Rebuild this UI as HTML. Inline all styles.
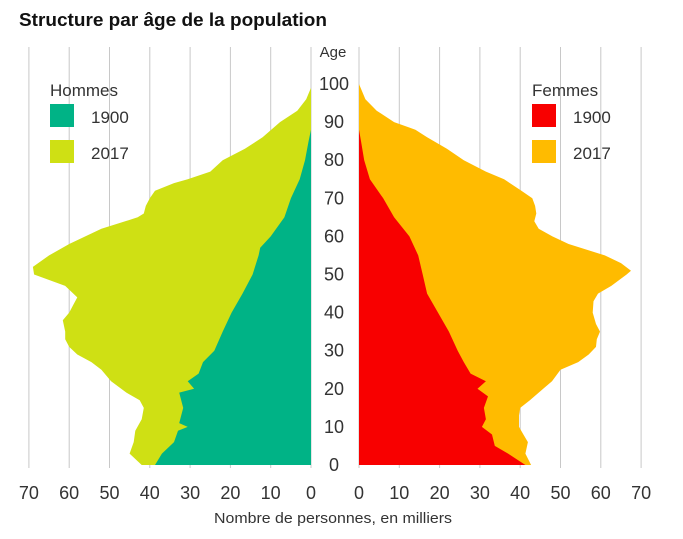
<!DOCTYPE html>
<html><head><meta charset="utf-8"><style>
body{margin:0;background:#fff;width:683px;height:539px;overflow:hidden}
svg{display:block}
text{font-family:"Liberation Sans Narrow","Liberation Sans",sans-serif;fill:#333}
</style></head><body>
<svg id="s" width="683" height="539" xmlns="http://www.w3.org/2000/svg">
<text x="19" y="26" textLength="308" lengthAdjust="spacingAndGlyphs" style="font-family:'Liberation Sans',sans-serif;font-weight:bold;font-size:18px;fill:#111">Structure par âge de la population</text>
<g id="grid"></g>
<g id="shapes"></g>
<text x="333" y="57" font-size="15" text-anchor="middle">Age</text>
<g id="lab"></g>
<text x="50" y="96" font-size="17">Hommes</text>
<rect x="50" y="104" width="24" height="23" fill="#00b386"/>
<text x="91" y="123" font-size="17">1900</text>
<rect x="50" y="140" width="24" height="23" fill="#cfe014"/>
<text x="91" y="159" font-size="17">2017</text>
<text x="532" y="96" font-size="17">Femmes</text>
<rect x="532" y="104" width="24" height="23" fill="#f80000"/>
<text x="573" y="123" font-size="17">1900</text>
<rect x="532" y="140" width="24" height="23" fill="#ffbb00"/>
<text x="573" y="159" font-size="17">2017</text>
<text x="333" y="523" font-size="15" text-anchor="middle" textLength="238" lengthAdjust="spacingAndGlyphs">Nombre de personnes, en milliers</text>
</svg>
<script>
var NS="http://www.w3.org/2000/svg";
function el(p,t,a,txt){var e=document.createElementNS(NS,t);for(var k in a)e.setAttribute(k,a[k]);if(txt!=null)e.textContent=txt;document.getElementById(p).appendChild(e);}
var L0=311,R0=359,U=4.03;
function Y(a){return 465-a*3.81;}
for(var v=0;v<=70;v+=10){
 el("grid","line",{x1:L0-v*U,x2:L0-v*U,y1:47,y2:468,stroke:"#c8c8c8","stroke-width":1});
 el("grid","line",{x1:R0+v*U,x2:R0+v*U,y1:47,y2:468,stroke:"#c8c8c8","stroke-width":1});
 el("lab","text",{x:L0-v*U,y:499,"font-size":18,"text-anchor":"middle"},v);
 el("lab","text",{x:R0+v*U,y:499,"font-size":18,"text-anchor":"middle"},v);
}
for(var a=0;a<=100;a+=10){el("lab","text",{x:334,y:Y(a)+6,"font-size":18,"text-anchor":"middle"},a);}
var m17=[[0,42],[3,45],[6,44],[9,43.6],[12,42],[15,41.5],[17,42.5],[19,45.8],[22,49.6],[25,52],[27,54.5],[29,58],[31,60],[33,61],[35,61],[38,61.6],[40,60],[42,59],[44,58],[47,61],[50,68.7],[52,69],[55,65],[58,60],[60,56],[62,52],[65,43],[66,41.5],[68,41],[70,40],[72,38.7],[74,34],[75,30.6],[77,25],[80,21.9],[83,16.4],[86,12],[90,7.7],[93,3.4],[96,1.2],[99,0]];
var m00=[[0,38.7],[3,37],[6,34],[9,33],[10,30.6],[11,32.7],[15,31.7],[19,32.7],[20,29],[22,30.6],[24,27.9],[27,26.8],[30,24],[35,21.9],[40,19.7],[45,17],[50,14.5],[55,13],[57,12.6],[60,10],[65,6.6],[70,5],[75,2.8],[80,1.5],[85,0.6],[88,0]];
var f00=[[0,41.3],[3,37],[5,33.7],[8,33],[10,30.5],[12,31.5],[15,31],[18,32],[20,29.4],[22,31.5],[24,27.7],[27,26],[30,24.5],[35,22.3],[40,19.6],[45,16.9],[50,15.8],[55,14.7],[60,12.5],[65,8.7],[70,6],[75,2.7],[80,1.3],[85,0.5],[88,0]];
var f17=[[0,42.7],[3,41.3],[6,41.9],[8,40.8],[10,39.7],[13,39.7],[15,40],[17,42.4],[20,45.7],[22,47.9],[25,50],[27,54.4],[29,57],[31,58.8],[33,59],[35,59.8],[37,58.8],[40,58],[43,58.2],[45,59.3],[47,62.6],[50,66.4],[51,67.5],[53,65],[55,61],[58,52],[60,48],[62,44.6],[64,43.5],[66,44],[68,43.7],[70,43],[72,40.3],[75,36],[77,31.5],[80,26],[83,21.8],[86,16.9],[88,14],[90,8.7],[93,4.4],[96,1.6],[100,0]];
function poly(d,side,col){
 var x0=side<0?L0:R0;var pts=[x0+","+Y(0)];
 d.forEach(function(p){pts.push((x0+side*p[1]*U).toFixed(1)+","+Y(p[0]).toFixed(1));});
 pts.push(x0+","+Y(d[d.length-1][0]));
 el("shapes","polygon",{points:pts.join(" "),fill:col});
}
poly(m17,-1,"#cfe014");poly(m00,-1,"#00b386");
poly(f17,1,"#ffbb00");poly(f00,1,"#f80000");
</script>
</body></html>
